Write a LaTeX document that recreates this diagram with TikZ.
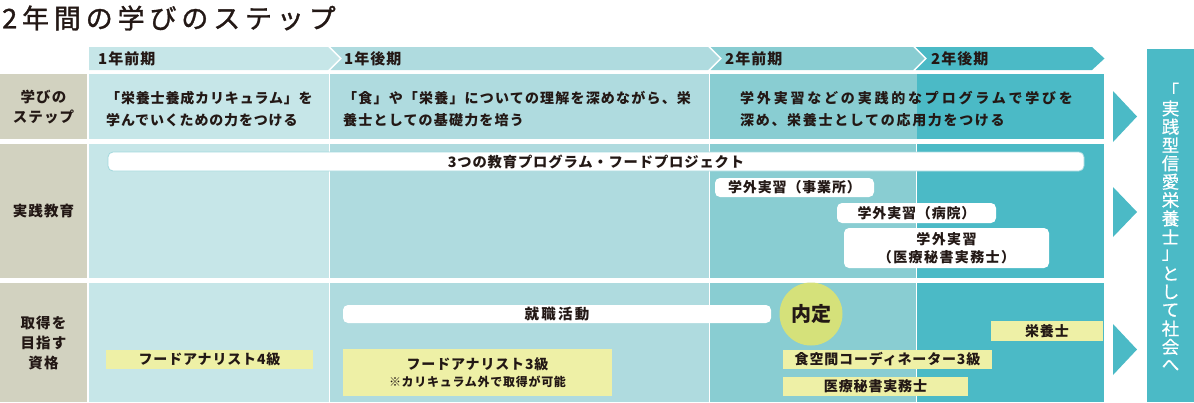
\documentclass[tikz,border=0pt]{standalone}
\usepackage{fontspec}
\newfontfamily\jp{Noto Sans CJK JP}
\definecolor{ink}{HTML}{231815}
\definecolor{cA}{HTML}{C6E6E8}
\definecolor{cB}{HTML}{AFDBDF}
\definecolor{cC}{HTML}{89CDD2}
\definecolor{cD}{HTML}{4BBAC6}
\definecolor{lab}{HTML}{D2D2C0}
\definecolor{yel}{HTML}{EEF0A6}
\definecolor{naitei}{HTML}{D5E17A}
\definecolor{pillline}{HTML}{A3D8DD}
\tikzset{
  base/.style={font=\jp\bfseries\fontsize{14}{22}\selectfont\addfontfeature{LetterSpace=6}, text=ink, inner sep=0pt},
  body/.style={base, align=left, anchor=west},
  lbl/.style={base, align=center, font=\jp\bfseries\fontsize{14.5}{20}\selectfont\addfontfeature{LetterSpace=8}},
  head/.style={base, anchor=west, font=\jp\bfseries\fontsize{15}{18}\selectfont\addfontfeature{LetterSpace=7}},
  pill/.style={base, fill=white, rounded corners=5pt, align=center},
  ybox/.style={base, fill=yel, align=center},
  vtxt/.style={font=\jp\fontsize{17.5}{18}\selectfont\addfontfeature{FakeBold=0.6}, text=white, inner sep=0pt},
}
\begin{document}
\begin{tikzpicture}[x=1pt,y=-1pt]
\useasboundingbox (0,0) rectangle (1194,402);
% title
\node[anchor=west, inner sep=0pt, text=ink, font=\jp\fontsize{27}{30}\selectfont\addfontfeature{LetterSpace=18,FakeBold=1.2}] (title) at (2,18) {2年間の学びのステップ};
% header chevrons
\fill[cA] (89,47) -- (328,47) -- (339.5,58.5) -- (328,70) -- (89,70) -- cycle;
\fill[cB] (330.5,47) -- (708,47) -- (719.5,58.5) -- (708,70) -- (330.5,70) -- (342,58.5) -- cycle;
\fill[cC] (710.5,47) -- (913,47) -- (924.5,58.5) -- (913,70) -- (710.5,70) -- (722,58.5) -- cycle;
\fill[cD] (915.5,47) -- (1092,47) -- (1104.5,58.5) -- (1092,70) -- (915.5,70) -- (927,58.5) -- cycle;
\node[head] (h1) at (98,58.5) {1年前期};
\node[head] (h2) at (344,58.5) {1年後期};
\node[head] (h3) at (725,58.5) {2年前期};
\node[head] (h4) at (931,58.5) {2年後期};
% label column
\fill[lab] (0,74) rectangle (87,139);
\fill[lab] (0,144) rectangle (87,278);
\fill[lab] (0,283) rectangle (87,402);
% row 1
\fill[cA] (89,74) rectangle (328.8,139);
\fill[cB] (330.3,74) rectangle (708.5,139);
\fill[cC] (710,74) rectangle (916.5,139);
\fill[cD] (916.5,74) rectangle (1104,139);
% row 2
\fill[cA] (89,144) rectangle (328.8,278);
\fill[cB] (330.3,144) rectangle (708.5,278);
\fill[cC] (710,144) rectangle (916,278);
\fill[cD] (917,144) rectangle (1104,278);
% row 3
\fill[cA] (89,283) rectangle (328.8,402);
\fill[cB] (330.3,283) rectangle (708.5,402);
\fill[cC] (710,283) rectangle (916,402);
\fill[cD] (917,283) rectangle (1104,402);
% labels
\node[lbl] (l1) at (43.5,107) {学びの\\ステップ};
\node[lbl] (l2) at (43.5,211) {実践教育};
\node[lbl] (l3) at (43.5,343) {取得を\\目指す\\資格};
% row 1 texts
\node[body] (t1) at (106,109) {「栄養士養成カリキュラム」を\\学んでいくための力をつける};
\node[body, font=\jp\bfseries\fontsize{14}{22}\selectfont\addfontfeature{LetterSpace=8.5}] (t2) at (343,109) {「食」や「栄養」についての理解を深めながら、栄\\養士としての基礎力を培う};
\node[body, font=\jp\bfseries\fontsize{14}{22}\selectfont] (t3) at (740,109) {{\addfontfeature{LetterSpace=20}学外実習などの実践的なプログラムで学びを}\\{\addfontfeature{LetterSpace=12}深め、栄養士としての応用力をつける}};
% row 2 pills
\node[pill, draw=pillline, line width=0.8pt, minimum width=976pt, minimum height=19pt, font=\jp\bfseries\fontsize{14.3}{22}\selectfont\addfontfeature{LetterSpace=6}] (prog) at (596,161.5) {3つの教育プログラム・フードプロジェクト};
\node[pill, minimum width=159pt, minimum height=19pt] (g1) at (794.5,187.5) {学外実習（事業所）};
\node[pill, minimum width=159pt, minimum height=20pt] (g2) at (916.5,213) {学外実習（病院）};
\node[pill, minimum width=205pt, minimum height=40pt, font=\jp\bfseries\fontsize{14}{18}\selectfont\addfontfeature{LetterSpace=10}] (g3) at (946.5,248) {学外実習\\（医療秘書実務士）};
% row 3
\node[pill, minimum width=428pt, minimum height=18pt, font=\jp\bfseries\fontsize{14.5}{18}\selectfont\addfontfeature{LetterSpace=15}] (job) at (557,314) {就職活動};
\node[circle, fill=naitei, minimum size=63pt, inner sep=0pt, text=ink, font=\jp\bfseries\fontsize{20}{22}\selectfont] (nt) at (811,314) {内定};
\node[ybox, minimum width=207pt, minimum height=19pt] (fa4) at (209.5,359.5) {フードアナリスト4級};
\node[ybox, minimum width=269pt, minimum height=47pt, font=\jp\bfseries\fontsize{14}{17}\selectfont\addfontfeature{LetterSpace=6}] (fa3) at (477.5,372.5) {フードアナリスト3級\\{\fontsize{12}{16}\selectfont ※カリキュラム外で取得が可能}};
\node[ybox, minimum width=112pt, minimum height=20pt] (eiy) at (1047,331) {栄養士};
\node[ybox, minimum width=209pt, minimum height=19pt] (sk) at (887.5,359.5) {食空間コーディネーター3級};
\node[ybox, minimum width=185pt, minimum height=19pt] (iryo) at (875.5,386.5) {医療秘書実務士};
% right arrows
\fill[cD] (1113,91) -- (1137,116.5) -- (1113,142) -- cycle;
\fill[cD] (1113,187) -- (1137,212) -- (1113,237) -- cycle;
\fill[cD] (1113,324) -- (1137,349.5) -- (1113,375) -- cycle;
% right bar
\fill[cD] (1147,49) rectangle (1194,402);
\foreach \ch [count=\i from 0] in {「,実,践,型,信,愛,栄,養,士,」,と,し,て,社,会,へ}
  \node[vtxt] (v\i) at (1170.5,90+18.35*\i) {\ch};
\end{tikzpicture}
\end{document}
